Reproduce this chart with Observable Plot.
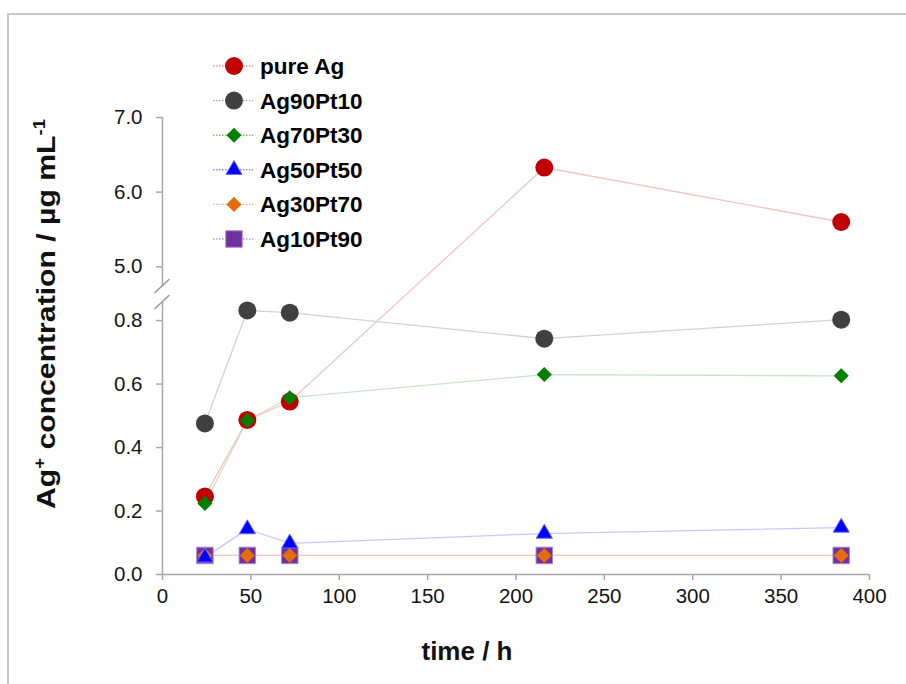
<!DOCTYPE html>
<html>
<head>
<meta charset="utf-8">
<script src="https://cdn.jsdelivr.net/npm/d3@7"></script>
<script src="https://cdn.jsdelivr.net/npm/@observablehq/plot@0.6"></script>
<style>
  body { margin: 0; background: #fff; }
  #wrap { position: relative; width: 906px; height: 684px; overflow: hidden; font-family: "Liberation Sans", Arial, sans-serif; }
  #frame { position: absolute; left: 7px; top: 13px; right: -10px; bottom: -10px; border-top: 2px solid #c8c8c8; border-left: 2px solid #c8c8c8; }
  #plot, #overlay { position: absolute; left: 0; top: 0; }
  #overlay { pointer-events: none; }
  g[aria-label$="-axis tick"] { stroke: #a8a8a8; stroke-width: 1.5px; }
  .tick line { stroke: #a8a8a8; stroke-width: 1.5px; }
</style>
</head>
<body>
<div id="wrap">
  <div id="frame"></div>
  <div id="plot"></div>
  <svg id="overlay" width="906" height="684"></svg>
</div>
<script>
// ---- data ----
const times = [24, 48, 72, 216, 384];
const seriesNames = ["pure Ag", "Ag90Pt10", "Ag70Pt30", "Ag50Pt50", "Ag30Pt70", "Ag10Pt90"];
const pureAg   = [0.246, 0.487, 0.545, 6.33, 5.60];
const ag90pt10 = [0.476, 0.832, 0.825, 0.743, 0.803];
const ag70pt30 = [0.224, 0.485, 0.557, 0.630, 0.626];
const ag50pt50 = [0.054, 0.143, 0.098, 0.129, 0.148];
const ag30pt70 = [0.060, 0.060, 0.060, 0.060, 0.060];
const ag10pt90 = [0.060, 0.060, 0.060, 0.060, 0.060];
const xTicks = [0, 50, 100, 150, 200, 250, 300, 350, 400];
const yTicksLow = [0, 0.2, 0.4, 0.6, 0.8];
const yTicksHigh = [5, 6, 7];
const xTitle = "time / h";

// ---- styles ----
const seriesValues = [pureAg, ag90pt10, ag70pt30, ag50pt50, ag30pt70, ag10pt90];
const colors = ["#c00000", "#404040", "#008000", "#0000ff", "#e46c0a", "#7030a0"];
const lineColors = ["#f3c4c4", "#d2d2d2", "#c9e5c9", "#c8c8ff", "#f4c8b8", "#e2d4ee"];
const legendLineColors = ["#ee9090", "#a8a8a8", "#78c078", "#8888ff", "#f5aa78", "#b898d8"];
const diamond = {
  draw(context, size) {
    const r = Math.sqrt(size) * 0.62625;
    context.moveTo(0, -r); context.lineTo(r, 0); context.lineTo(0, r); context.lineTo(-r, 0); context.closePath();
  }
};
const symbolsPlot = [d3.symbolCircle, d3.symbolCircle, diamond, d3.symbolTriangle, diamond, d3.symbolSquare];
const radii = [9, 9, 6.8, 6, 6.8, 9.3];
const strokes = ["none", "none", "none", "#6a6aff", "none", "#a888d0"];
const drawOrder = [0, 1, 5, 4, 2, 3];
const lineOrder = [5, 4, 3, 2, 1, 0];
const axisColor = "#a8a8a8";

// broken axis: value -> virtual axis units (lower segment, small gap, upper segment)
const lowTop = 0.857, highBottom = 4.736, yMax = 7;
const broken = d3.scaleLinear().domain([0, lowTop, highBottom, yMax]).range([0, 272, 288, 457]);
const yTicks = [...yTicksLow, ...yTicksHigh];
const tickLabel = new Map(yTicks.map(t => [broken(t), d3.format(".1f")(t)]));

const rows = seriesNames.flatMap((name, k) =>
  seriesValues[k].map((v, i) => ({ name, k, time: times[i], value: v, yv: broken(v) })));

const marks = [
  Plot.ruleY([0], { x1: 0, x2: 400, stroke: axisColor, strokeWidth: 1.5 }),
  Plot.ruleX([0], { y1: broken(0), y2: broken(lowTop), stroke: axisColor, strokeWidth: 1.5 }),
  Plot.ruleX([0], { y1: broken(highBottom), y2: broken(yMax), stroke: axisColor, strokeWidth: 1.5 }),
  ...lineOrder.map(k => Plot.line(rows.filter(d => d.k === k),
    { x: "time", y: "yv", stroke: lineColors[k], strokeWidth: 1.3 })),
  ...drawOrder.map(k => Plot.dot(rows.filter(d => d.k === k),
    { x: "time", y: "yv", symbol: symbolsPlot[k], r: radii[k], fill: colors[k], stroke: strokes[k], strokeWidth: 1 }))
];

const chart = Plot.plot({
  width: 906, height: 684,
  marginLeft: 162, marginRight: 37, marginTop: 117, marginBottom: 110,
  style: { fontFamily: "'Liberation Sans', Arial, sans-serif", fontSize: "20.5px", color: "#151515", background: "transparent", overflow: "visible" },
  x: { domain: [0, 400], ticks: xTicks, tickSize: 6, tickPadding: 8, label: null },
  y: { domain: [0, broken(yMax)], ticks: yTicks.map(broken), tickFormat: v => tickLabel.get(v) ?? "",
       tickSize: 6, tickPadding: 14, label: null },
  marks
});
document.getElementById("plot").appendChild(chart);

// ---- overlay: break marks, legend, titles ----
const X = chart.scale("x").apply, Y = chart.scale("y").apply;
const ov = d3.select("#overlay");
for (const v of [lowTop, highBottom]) {
  const cx = X(0), cy = Y(broken(v));
  ov.append("line").attr("x1", cx - 7.5).attr("y1", cy + 7).attr("x2", cx + 7.5).attr("y2", cy - 7)
    .attr("stroke", "#9a9a9a").attr("stroke-width", 1.6);
}

const legendX = 213, legendY = 66, legendStep = 34.6;
seriesNames.forEach((name, k) => {
  const y = legendY + k * legendStep;
  ov.append("line").attr("x1", legendX).attr("x2", legendX + 40).attr("y1", y).attr("y2", y)
    .attr("stroke", legendLineColors[k]).attr("stroke-width", 1.4).attr("stroke-dasharray", "1.5,1.5");
  ov.append("path").attr("transform", `translate(${legendX + 21},${y})`)
    .attr("d", d3.symbol(symbolsPlot[k], Math.PI * radii[k] * radii[k])())
    .attr("fill", colors[k]).attr("stroke", strokes[k]);
  ov.append("text").attr("x", legendX + 47).attr("y", y + 8)
    .attr("font-family", "'Liberation Sans', Arial, sans-serif").attr("font-weight", "bold").attr("font-size", 22.5)
    .attr("fill", "#000").text(name);
});

ov.append("text").attr("x", 467).attr("y", 660).attr("text-anchor", "middle")
  .attr("font-family", "'Liberation Sans', Arial, sans-serif").attr("font-weight", "bold").attr("font-size", 26)
  .attr("fill", "#111").text(xTitle);

const yt = ov.append("text").attr("transform", "translate(55,314) rotate(-90)").attr("text-anchor", "middle")
  .attr("font-family", "'Liberation Sans', Arial, sans-serif").attr("font-weight", "bold").attr("font-size", 26)
  .attr("fill", "#111").attr("textLength", 390).attr("lengthAdjust", "spacingAndGlyphs");
yt.append("tspan").text("Ag");
yt.append("tspan").attr("font-size", 16).attr("dy", -10).text("+");
yt.append("tspan").attr("dy", 10).text(" concentration / µg mL");
yt.append("tspan").attr("font-size", 16).attr("dy", -10).text("-1");
</script>
</body>
</html>
